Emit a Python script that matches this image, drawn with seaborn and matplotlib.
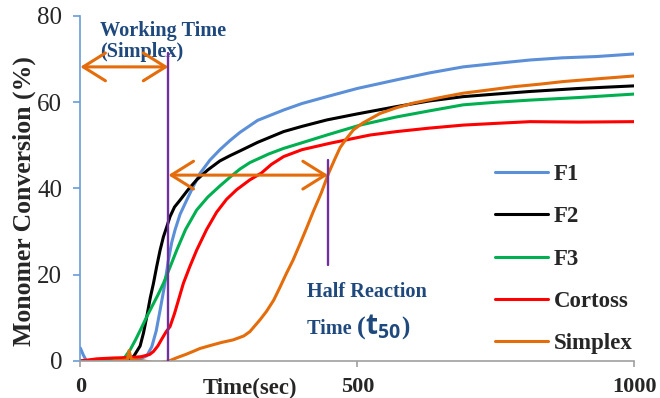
import pandas as pd
import matplotlib.pyplot as plt
import seaborn as sns
from matplotlib.offsetbox import TextArea, HPacker, AnnotationBbox

# Monomer conversion vs time
f1_t = [0, 5, 11, 30, 60, 90, 110, 120, 129, 137, 144, 152, 159, 165, 171, 180, 192, 204, 216, 234,
        252, 270, 288, 320, 367, 400, 445, 500, 571, 630, 691, 750, 812, 870, 932, 1000]
f1_v = [3.0, 1.5, 0.0, 0.2, 0.3, 0.4, 0.6, 1.2, 3.3, 7.0, 11.8, 17.5, 23.4, 27.5, 30.4, 34.0, 37.3, 40.5,
        43.5, 46.6, 49.0, 51.1, 53.0, 55.8, 58.2, 59.7, 61.3, 63.2, 65.2, 66.8, 68.2, 69.0, 69.8, 70.3,
        70.6, 71.2]

f2_t = [0, 40, 80, 96, 108, 114, 120, 126, 132, 138, 144, 150, 156, 162, 170, 180, 195, 210, 230, 252,
        270, 288, 320, 367, 400, 445, 500, 571, 630, 691, 750, 812, 900, 1000]
f2_v = [0.0, 0.1, 0.3, 1.0, 3.5, 6.5, 10.3, 14.5, 18.0, 22.0, 25.7, 28.8, 31.1, 33.5, 35.7, 37.3, 39.8,
        42.0, 44.3, 46.4, 47.6, 48.7, 50.7, 53.2, 54.4, 55.9, 57.3, 59.0, 60.3, 61.3, 61.9, 62.5, 63.2, 63.8]

f3_t = [0, 40, 66, 80, 90, 100, 110, 120, 130, 140, 150, 162, 174, 190, 210, 230, 252, 270, 288, 306,
        340, 367, 400, 445, 505, 571, 630, 691, 750, 812, 900, 1000]
f3_v = [0.0, 0.1, 0.2, 0.8, 2.6, 5.0, 7.6, 10.3, 12.8, 15.3, 18.0, 21.8, 25.7, 30.5, 35.0, 38.0, 40.6,
        42.6, 44.5, 46.0, 48.0, 49.3, 50.6, 52.4, 54.7, 56.6, 58.0, 59.4, 60.0, 60.5, 61.1, 61.9]

cortoss_t = [0, 30, 60, 90, 110, 125, 132, 140, 148, 155, 162, 170, 178, 186, 198, 210, 228, 246, 264,
             282, 306, 327, 345, 367, 400, 451, 523, 571, 630, 691, 750, 812, 900, 1000]
cortoss_v = [0.0, 0.5, 0.7, 0.8, 1.0, 1.5, 2.2, 3.5, 5.3, 6.8, 8.0, 11.0, 14.5, 18.0, 22.0, 25.7, 30.5,
             34.5, 37.5, 39.7, 42.0, 43.6, 45.6, 47.4, 49.0, 50.5, 52.4, 53.2, 54.0, 54.7, 55.1, 55.5,
             55.4, 55.5]

simplex_t = [60, 75, 85, 88, 92, 100, 115, 130, 145, 160, 175, 190, 205, 216, 235, 255, 276, 295, 306,
             324, 336, 349, 360, 372, 384, 397, 409, 420, 435, 448, 460, 469, 480, 493, 510, 541, 570,
             601, 650, 691, 740, 782, 830, 872, 930, 1000]
simplex_v = [0.0, 0.1, 0.3, 2.4, 0.4, 0.2, 0.0, -0.3, -0.3, 0.0, 0.8, 1.5, 2.3, 2.9, 3.6, 4.3, 4.9, 5.8,
             6.8, 9.5, 11.5, 14.1, 17.0, 20.3, 23.4, 27.3, 31.0, 34.5, 39.0, 43.5, 47.0, 49.5, 51.5, 53.6,
             55.2, 57.4, 58.7, 59.8, 61.1, 62.1, 62.9, 63.6, 64.2, 64.8, 65.4, 66.1]

series_names = ['F1', 'F2', 'F3', 'Cortoss', 'Simplex']
series_colors = ['#5B8FD8', '#000000', '#00B050', '#FF0000', '#E46C0A']

# annotation values
working_time = 159       # sec, Simplex working time
t50 = 447                # sec, half reaction time
working_arrow_y = 68.2
t50_arrow_y = 43.1

frames = []
for name, t, v in zip(series_names,
                      [f1_t, f2_t, f3_t, cortoss_t, simplex_t],
                      [f1_v, f2_v, f3_v, cortoss_v, simplex_v]):
    frames.append(pd.DataFrame({'Time': t, 'Conversion': v, 'Series': name}))
df = pd.concat(frames, ignore_index=True)

sns.set_style("white")
plt.rcParams['font.family'] = ['Liberation Serif', 'DejaVu Serif']
plt.rcParams['mathtext.fontset'] = 'custom'
plt.rcParams['mathtext.sf'] = 'Open Sans:bold'

fig = plt.figure(figsize=(6.6, 3.98), dpi=100)
ax = fig.add_axes([0.1217, 0.093, 0.8394, 0.8668])

sns.lineplot(data=df, x='Time', y='Conversion', hue='Series', hue_order=series_names,
             palette=dict(zip(series_names, series_colors)), estimator=None,
             linewidth=2.2, ax=ax)

ax.set_xlim(0, 1000)
ax.set_ylim(0, 80)
ax.set_xticks([0, 500, 1000])
ax.set_yticks([0, 20, 40, 60, 80])

for s in ['top', 'right']:
    ax.spines[s].set_visible(False)
ax.spines['left'].set_color('#6A9BD8')
ax.spines['left'].set_linewidth(1.2)
ax.spines['bottom'].set_color('#A0A0A0')
ax.spines['bottom'].set_linewidth(1.2)

ax.tick_params(axis='y', direction='out', length=5, width=1.2, color='#6A9BD8',
               labelsize=18, pad=8, left=True)
ax.tick_params(axis='x', direction='out', length=4.5, width=1.2, color='#A0A0A0',
               labelsize=16, pad=7, bottom=True)
for lab in ax.get_xticklabels():
    lab.set_fontweight('bold')

ax.set_ylabel('Monomer Conversion (%)', fontsize=18.5, fontweight='bold')
ax.yaxis.set_label_coords(-0.08, 0.464)
ax.set_xlabel('Time(sec)', fontsize=16.4, fontweight='bold')
ax.xaxis.set_label_coords(0.306, -0.05)

# purple markers and orange arrows
purple = '#7030A0'
orange = '#E46C0A'
ax.plot([working_time, working_time], [0, 71.4], color=purple, lw=1.7, zorder=5)
ax.plot([t50, t50], [22.3, 46.6], color=purple, lw=1.7, zorder=5)
arrow_style = '<->,head_length=0.8,head_width=0.5'
ax.annotate('', xy=(0, working_arrow_y), xytext=(working_time, working_arrow_y),
            arrowprops=dict(arrowstyle=arrow_style, color=orange, lw=2.2, mutation_scale=20,
                            shrinkA=0, shrinkB=0), annotation_clip=False, zorder=6)
ax.annotate('', xy=(working_time, t50_arrow_y), xytext=(t50, t50_arrow_y),
            arrowprops=dict(arrowstyle=arrow_style, color=orange, lw=2.2, mutation_scale=20,
                            shrinkA=0, shrinkB=0), zorder=6)

navy = '#1F497D'
ax.text(35.6, 75.3, 'Working Time', fontsize=14.6, fontweight='bold', color=navy, va='baseline')
ax.text(35.6, 70.6, '(Simplex)', fontsize=14.6, fontweight='bold', color=navy, va='baseline')
ax.text(408.7, 14.9, 'Half Reaction', fontsize=14.6, fontweight='bold', color=navy, va='baseline')

parts = HPacker(children=[
    TextArea('Time ', textprops=dict(fontsize=14.6, fontweight='bold', color=navy)),
    TextArea('(', textprops=dict(fontsize=19, fontweight='bold', color=navy)),
    TextArea(r'$\mathsf{t}_{\mathsf{50}}$', textprops=dict(fontsize=20, color=navy)),
    TextArea(')', textprops=dict(fontsize=18, fontweight='bold', color=navy)),
], align='baseline', pad=0, sep=0)
ab = AnnotationBbox(parts, (408.7, 4.6), xycoords='data', box_alignment=(0, 0), frameon=False)
ax.add_artist(ab)

handles, labels = ax.get_legend_handles_labels()
ax.legend(handles, labels, frameon=False, loc='upper left', bbox_to_anchor=(0.7486, 0.571),
          borderpad=0, borderaxespad=0, handlelength=2.3, handletextpad=0.25, labelspacing=0.93,
          prop=dict(size=16.5, weight='bold'))

plt.savefig('out.png', dpi=100)
